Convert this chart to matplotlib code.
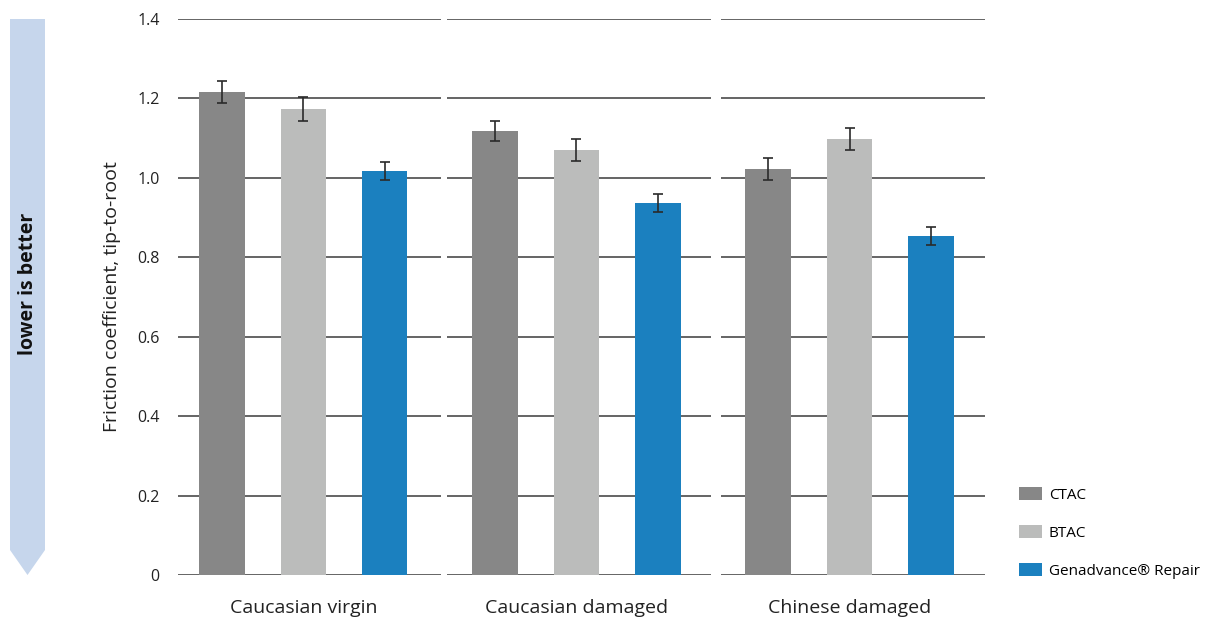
import matplotlib.pyplot as plt
from matplotlib.patches import Patch, Polygon

plt.rcParams['font.family'] = ['Open Sans', 'DejaVu Sans']

groups = ['Caucasian virgin', 'Caucasian damaged', 'Chinese damaged']
series = ['CTAC', 'BTAC', 'Genadvance® Repair']
ctac = [1.216, 1.118, 1.022]
btac = [1.173, 1.070, 1.098]
genadvance = [1.017, 0.937, 0.854]
ctac_err = [0.028, 0.025, 0.028]
btac_err = [0.031, 0.028, 0.028]
genadvance_err = [0.023, 0.023, 0.023]
yticks = [0, 0.2, 0.4, 0.6, 0.8, 1.0, 1.2, 1.4]
ytick_labels = ['0', '0.2', '0.4', '0.6', '0.8', '1.0', '1.2', '1.4']

colors = ['#878787', '#bbbcbb', '#1b80bf']
offsets = [-0.297, 0, 0.297]
width = 0.168

fig = plt.figure(figsize=(12.1, 6.18), dpi=100)
ax = fig.add_axes([0.147, 0.0696, 0.667, 0.8996])

# broken gridlines, one segment per group
segments = [(-0.458, 0.502), (0.527, 1.494), (1.530, 2.496)]
for y in yticks:
    for x0, x1 in segments:
        ax.plot([x0, x1], [y, y], color='#3a3a3a', lw=1.1, zorder=1,
                solid_capstyle='butt')

for vals, errs, off, c, name in zip([ctac, btac, genadvance],
                                    [ctac_err, btac_err, genadvance_err],
                                    offsets, colors, series):
    xs = [i + off for i in range(len(groups))]
    ax.bar(xs, vals, width=width, color=c, zorder=2, label=name)
    ax.errorbar(xs, vals, yerr=errs, fmt='none', ecolor='#2a2a2a',
                elinewidth=1.2, capsize=3.5, capthick=1.2, zorder=3)

ax.set_xlim(-0.46, 2.496)
ax.set_ylim(0, 1.4)
ax.set_yticks(yticks)
ax.set_yticklabels(ytick_labels, fontsize=11.5, color='#222222')
ax.tick_params(axis='y', length=0, pad=13)
ax.set_xticks(range(len(groups)))
ax.set_xticklabels(groups, fontsize=14, color='#222222')
ax.tick_params(axis='x', length=0, pad=17)
for s in ax.spines.values():
    s.set_visible(False)
ax.set_ylabel('Friction coefficient, tip-to-root', fontsize=14,
              color='#222222', labelpad=12)

# "lower is better" arrow
W, H = 1210, 618
pts = [(10, 19), (45, 19), (45, 550), (27.5, 575), (10, 550)]
arrow = Polygon([(x / W, 1 - y / H) for x, y in pts], closed=True,
                transform=fig.transFigure, facecolor='#c6d6ec',
                edgecolor='none')
fig.patches.append(arrow)
fig.text(28 / W, 1 - 284 / H, 'lower is better', rotation=90, ha='center',
         va='center', fontsize=14, fontweight='bold', color='#111111')

handles = [Patch(facecolor=c) for c in colors]
fig.legend(handles, series, loc='upper left',
           bbox_to_anchor=(1013 / W, 1 - 481 / H), frameon=False,
           fontsize=11, handlelength=1.5, handleheight=0.95,
           labelspacing=1.45, handletextpad=0.45, borderaxespad=0)

fig.savefig('out.png', dpi=100)
